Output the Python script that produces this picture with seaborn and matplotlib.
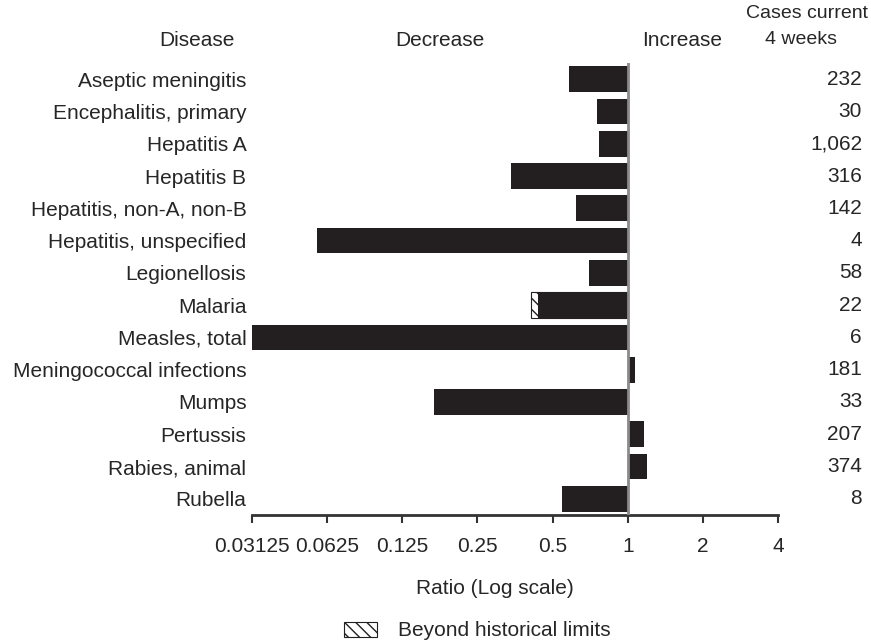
import numpy as np
import pandas as pd
import matplotlib
matplotlib.use("Agg")
import matplotlib.pyplot as plt
import seaborn as sns
from matplotlib.patches import Patch
from matplotlib.transforms import blended_transform_factory

# Data
diseases = ["Aseptic meningitis", "Encephalitis, primary", "Hepatitis A", "Hepatitis B",
            "Hepatitis, non-A, non-B", "Hepatitis, unspecified", "Legionellosis", "Malaria",
            "Measles, total", "Meningococcal infections", "Mumps", "Pertussis",
            "Rabies, animal", "Rubella"]
ratios = [0.58, 0.75, 0.77, 0.34, 0.62, 0.057, 0.70, 0.436, 0.03, 1.07, 0.167, 1.16, 1.19, 0.545]
beyond = {"Malaria": 0.408}   # portion beyond historical limits
cases = ["232", "30", "1,062", "316", "142", "4", "58", "22", "6", "181", "33", "207", "374", "8"]
tick_values = [0.03125, 0.0625, 0.125, 0.25, 0.5, 1, 2, 4]
tick_labels = ["0.03125", "0.0625", "0.125", "0.25", "0.5", "1", "2", "4"]

sns.set_style("white")
plt.rcParams["font.family"] = ["Liberation Sans", "DejaVu Sans"]
plt.rcParams["font.size"] = 15
plt.rcParams["hatch.linewidth"] = 1.0

bar_color = "#231f20"

df = pd.DataFrame({"disease": diseases, "log2ratio": np.log2(ratios)})
df_beyond = pd.DataFrame({"disease": list(beyond.keys()),
                          "log2ratio": np.log2(list(beyond.values()))})

fig = plt.figure(figsize=(8.71, 6.41), dpi=100)
ax = fig.add_axes([0.2893, 0.1966, 0.6039, 0.7051])

# hatched "beyond historical limits" part first, solid bars on top
sns.barplot(data=df_beyond, x="log2ratio", y="disease", order=diseases, orient="h",
            color="white", edgecolor=bar_color, hatch="\\\\\\", linewidth=0.8,
            width=0.8, ax=ax)
sns.barplot(data=df, x="log2ratio", y="disease", order=diseases, orient="h",
            color=bar_color, edgecolor=bar_color, linewidth=0, saturation=1,
            width=0.8, ax=ax)

ax.set_xlim(-5, 2)
ax.set_ylim(len(diseases) - 0.5, -0.5)
ax.axvline(0, color="#8a8a8a", lw=2, zorder=5)

ax.set_xticks(np.log2(tick_values))
ax.set_xticklabels(tick_labels)
ax.set_xlabel("")
ax.set_ylabel("")
ax.tick_params(axis="x", direction="out", length=6, width=1.5, pad=10,
               color="#333333", labelsize=15, bottom=True)
ax.tick_params(axis="y", length=0, pad=4, labelsize=15)
for s in ["top", "left", "right"]:
    ax.spines[s].set_visible(False)
ax.spines["bottom"].set_linewidth(2)
ax.spines["bottom"].set_color("#333333")

# case counts on the right
trans = blended_transform_factory(fig.transFigure, ax.transData)
for i, c in enumerate(cases):
    ax.text(862 / 871, i, c, transform=trans, ha="right", va="center", fontsize=15)

# headers
fig.text(197 / 871, 1 - 41 / 641, "Disease", ha="center", va="center", fontsize=15)
fig.text(440 / 871, 1 - 41 / 641, "Decrease", ha="center", va="center", fontsize=15)
fig.text(682 / 871, 1 - 41 / 641, "Increase", ha="center", va="center", fontsize=15)
fig.text(868 / 871, 1 - 13 / 641, "Cases current", ha="right", va="center", fontsize=14)
fig.text(801 / 871, 1 - 40 / 641, "4 weeks", ha="center", va="center", fontsize=14)

fig.text(495 / 871, 1 - 588 / 641, "Ratio (Log scale)", ha="center", va="center", fontsize=15)

handle = Patch(facecolor="white", edgecolor=bar_color, hatch="\\\\\\", linewidth=0.8)
fig.legend(handles=[handle], labels=["Beyond historical limits"], frameon=False,
           loc="center left", bbox_to_anchor=(344 / 871, 1 - 631 / 641),
           borderaxespad=0, borderpad=0, handlelength=1.6, handleheight=0.7,
           handletextpad=1.0, fontsize=15)

fig.savefig("out.png", dpi=100)
